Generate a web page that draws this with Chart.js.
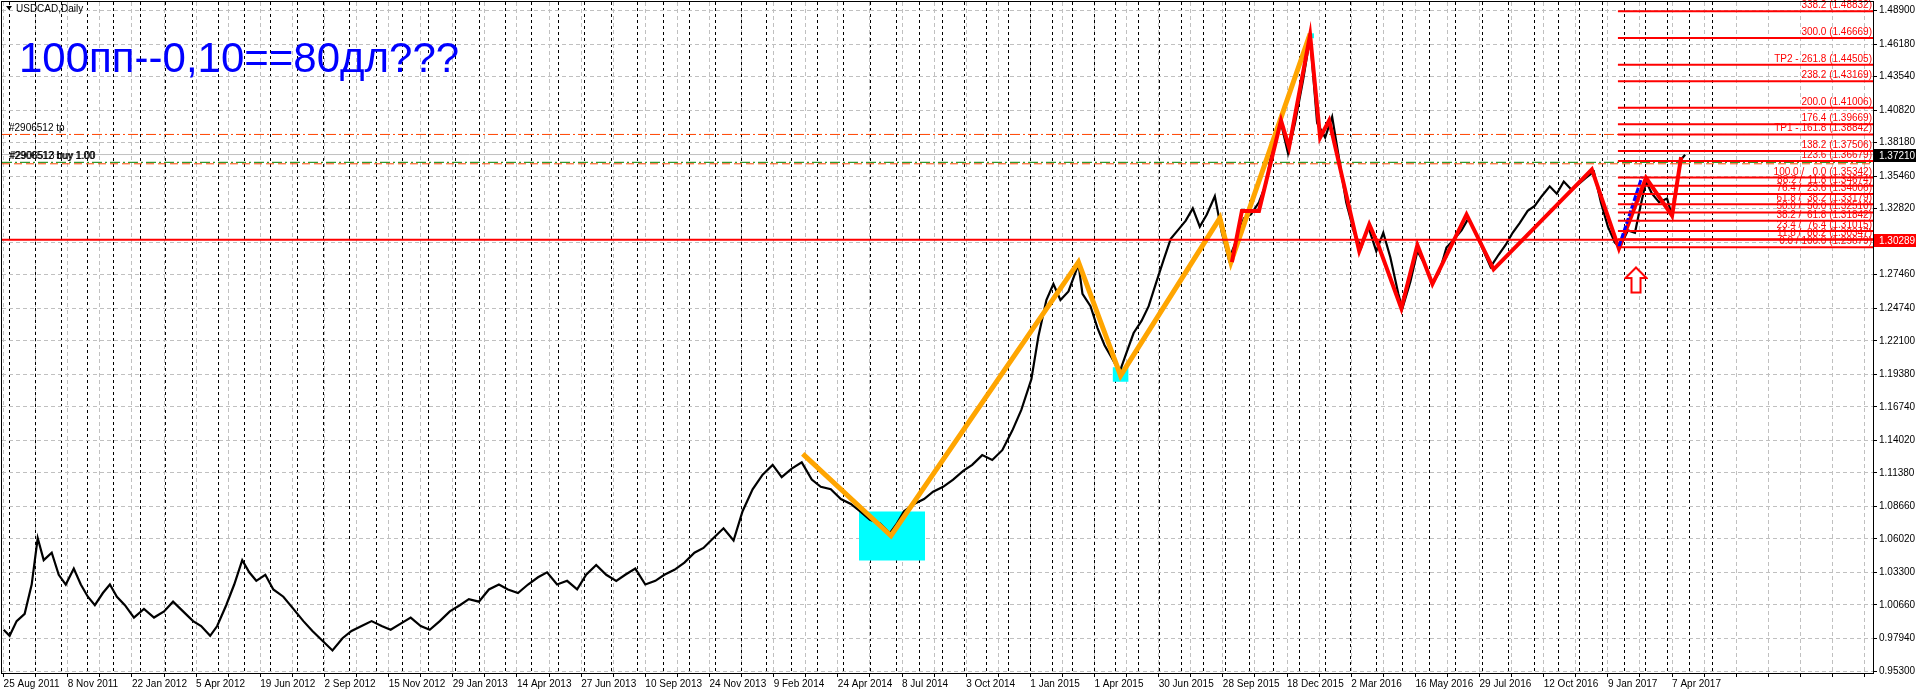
<!DOCTYPE html>
<html>

<head>
    <title>USDCAD,Daily</title>
    <meta charset="utf-8">
    <style>
        html,
        body {
            margin: 0;
            padding: 0;
            background: #ffffff;
        }
    </style>
</head>

<body>
    <canvas id="myChart" width="1916" height="694"></canvas>

    <script src="https://cdn.jsdelivr.net/npm/chart.js@4.4.1/dist/chart.umd.min.js"></script>

    <script>
        // ---- data ----
        const symbolTitle = 'USDCAD,Daily';
        const noteText = '100пп--0,10==80дл???';

        // one label every 64 bars
        const dateLabels = ['25 Aug 2011', '8 Nov 2011', '22 Jan 2012', '5 Apr 2012', '19 Jun 2012', '2 Sep 2012',
            '15 Nov 2012', '29 Jan 2013', '14 Apr 2013', '27 Jun 2013', '10 Sep 2013', '24 Nov 2013', '9 Feb 2014',
            '24 Apr 2014', '8 Jul 2014', '3 Oct 2014', '1 Jan 2015', '1 Apr 2015', '30 Jun 2015', '28 Sep 2015',
            '18 Dec 2015', '2 Mar 2016', '16 May 2016', '29 Jul 2016', '12 Oct 2016', '9 Jan 2017', '7 Apr 2017'];
        const barsPerLabel = 64;

        const priceTicks = [0.953, 0.9794, 1.0066, 1.033, 1.0602, 1.0866, 1.1138, 1.1402, 1.1674, 1.1938, 1.221,
            1.2474, 1.2746, 1.301, 1.3282, 1.3546, 1.3818, 1.4082, 1.4354, 1.4618, 1.489];

        // close line (bar index, price)
        const priceBars = [0, 6, 13, 21, 28, 34, 40, 48, 55, 62, 70, 77, 84, 91, 99, 106, 113, 121, 130, 140, 150, 160,
            169, 179, 189, 197, 206, 213, 222, 230, 238, 245, 252, 261, 269, 279, 289, 299, 308, 318, 328, 338, 347,
            357, 367, 377, 386, 396, 406, 416, 425, 435, 445, 455, 464, 474, 484, 494, 503, 513, 523, 533, 542, 552,
            562, 572, 581, 591, 601, 611, 620, 630, 640, 650, 659, 669, 679, 689, 698, 708, 718, 728, 737, 747, 757,
            767, 776, 786, 796, 806, 815, 825, 835, 845, 854, 864, 874, 884, 891, 898, 908, 918, 927, 937, 947, 957,
            966, 976, 986, 996, 1006, 1015, 1025, 1032, 1040, 1047, 1054, 1062, 1072, 1076, 1084, 1091, 1098, 1105,
            1113, 1120, 1127, 1135, 1142, 1149, 1157, 1164, 1171, 1179, 1186, 1193, 1200, 1208, 1215, 1222, 1230,
            1237, 1244, 1252, 1259, 1266, 1274, 1281, 1288, 1296, 1303, 1310, 1318, 1325, 1332, 1339, 1347, 1354,
            1361, 1369, 1376, 1383, 1391, 1395, 1403, 1410, 1417, 1425, 1432, 1439, 1447, 1454, 1461, 1469, 1476,
            1483, 1491, 1498, 1505, 1512, 1520, 1527, 1534, 1542, 1549, 1556, 1564, 1571, 1578, 1586, 1593, 1600,
            1607, 1612, 1620, 1627, 1632, 1638, 1644, 1651, 1659, 1664, 1669, 1673, 1677];
        const priceVals = [0.9865, 0.9816, 0.9935, 0.9994, 1.0232, 1.0609, 1.0430, 1.0490, 1.0311, 1.0232, 1.0361,
            1.0232, 1.0133, 1.0064, 1.0163, 1.0232, 1.0133, 1.0064, 0.9964, 1.0034, 0.9964, 1.0014, 1.0093, 1.0014,
            0.9935, 0.9895, 0.9816, 0.9895, 1.0064, 1.0232, 1.0430, 1.0331, 1.0262, 1.0311, 1.0192, 1.0133, 1.0034,
            0.9935, 0.9855, 0.9776, 0.9697, 0.9796, 0.9855, 0.9895, 0.9935, 0.9895, 0.9865, 0.9915, 0.9964, 0.9895,
            0.9865, 0.9935, 1.0014, 1.0064, 1.0113, 1.0093, 1.0192, 1.0232, 1.0192, 1.0163, 1.0232, 1.0291, 1.0331,
            1.0232, 1.0262, 1.0192, 1.0311, 1.0391, 1.0311, 1.0262, 1.0311, 1.0361, 1.0232, 1.0262, 1.0311, 1.0351,
            1.0410, 1.0490, 1.0529, 1.0609, 1.0688, 1.0589, 1.0827, 1.1005, 1.1124, 1.1203, 1.1104, 1.1173, 1.1223,
            1.1084, 1.1025, 1.1005, 1.0926, 1.0886, 1.0827, 1.0757, 1.0728, 1.0648, 1.0728, 1.0827, 1.0886, 1.0926,
            1.0985, 1.1025, 1.1084, 1.1154, 1.1203, 1.1282, 1.1243, 1.1322, 1.1481, 1.1649, 1.1897, 1.2244, 1.2541,
            1.2670, 1.2541, 1.2610, 1.2830, 1.2591, 1.2491, 1.2313, 1.2174, 1.2075, 1.1956, 1.2115, 1.2273, 1.2373,
            1.2491, 1.2670, 1.2868, 1.3037, 1.3106, 1.3185, 1.3284, 1.3136, 1.3235, 1.3383, 1.3086, 1.2868, 1.3037,
            1.3205, 1.3235, 1.3334, 1.3482, 1.3800, 1.3978, 1.3730, 1.3978, 1.4325, 1.4672, 1.3978, 1.3859, 1.4028,
            1.3681, 1.3334, 1.3086, 1.2967, 1.3136, 1.2937, 1.3086, 1.2888, 1.2591, 1.2472, 1.2690, 1.2937, 1.2838,
            1.2670, 1.2769, 1.2967, 1.3037, 1.3106, 1.3205, 1.3066, 1.2937, 1.2809, 1.2908, 1.2987, 1.3086, 1.3165,
            1.3264, 1.3304, 1.3383, 1.3463, 1.3403, 1.3502, 1.3433, 1.3482, 1.3532, 1.3582, 1.3334, 1.3136, 1.3007,
            1.2967, 1.3106, 1.3086, 1.3284, 1.3502, 1.3403, 1.3334, 1.3364, 1.3225, 1.3482, 1.3681, 1.3720];

        // zigzags
        const orangeBars = [797, 885, 1072, 1114, 1213, 1224, 1303];
        const orangeVals = [1.1292, 1.0628, 1.2848, 1.1927, 1.3205, 1.2848, 1.4701];
        const redBars = [1225, 1235, 1252, 1274, 1282, 1303, 1313, 1322, 1352, 1362, 1371, 1394, 1410, 1425, 1459,
            1486, 1584, 1611, 1638, 1664, 1673];
        const redVals = [1.2848, 1.3264, 1.3264, 1.3998, 1.3780, 1.4692, 1.3859, 1.3998, 1.2937, 1.3155, 1.2987,
            1.2472, 1.2987, 1.2670, 1.3235, 1.2789, 1.3601, 1.2957, 1.3532, 1.3225, 1.3700];
        const blueBars = [1611, 1634];
        const blueVals = [1.2974, 1.3542];

        // fibonacci expansion
        const fibStartBar = 1610;
        const fibLevels = [1.48832, 1.46669, 1.44505, 1.43169, 1.41006, 1.39669, 1.38842, 1.37506, 1.36679, 1.35342,
            1.34674, 1.34006, 1.33179, 1.32510, 1.31842, 1.31015, 1.30347, 1.29679];
        const fibNames = ['338.2', '300.0', 'TP2 - 261.8', '238.2', '200.0', '176.4', 'TP1 - 161.8', '138.2', '123.6',
            '100.0 /   0.0', '88.2 /  11.8', '76.4 /  23.6', '61.8 /  38.2', '50.0 /  50.0', '38.2 /  61.8',
            '23.4 /  76.4', '11.8 /  88.2', '0.0 / 100.0'];

        // horizontal lines
        const supportLevel = 1.30289;
        const tpLevel = 1.38842;
        const buyLevels = [1.3658, 1.3646];
        const bidLevel = 1.37210;

        // cyan boxes: [first bar, last bar, top, bottom]
        const cyanBoxes = [[853, 919, 1.0824, 1.0427], [1106, 1122, 1.1996, 1.1877], [1301, 1307, 1.4705, 1.4665]];

        const arrowBar = 1628;
        const arrowVal = 1.2703;

        const xMin = -1.6, xMax = 1864.4;
        const yMin = 0.9514, yMax = 1.4959;

        // ---- helpers ----
        const monthIdx = { Jan: 0, Feb: 1, Mar: 2, Apr: 3, May: 4, Jun: 5, Jul: 6, Aug: 7, Sep: 8, Oct: 9, Nov: 10, Dec: 11 };
        function toDay(s) {
            const p = s.split(' ');
            return Date.UTC(+p[2], monthIdx[p[1]], +p[0]) / 864e5;
        }
        const labelDays = dateLabels.map(toDay);
        function barOfDay(day) {
            let i = 0;
            while (i < labelDays.length - 2 && day > labelDays[i + 1]) i++;
            return barsPerLabel * (i + (day - labelDays[i]) / (labelDays[i + 1] - labelDays[i]));
        }
        // month separators, Sep 2011 .. Jun 2017
        const monthBars = [];
        for (let yr = 2011, m = 8; yr < 2017 || m <= 5;) {
            monthBars.push(barOfDay(Date.UTC(yr, m, 1) / 864e5));
            m++;
            if (m > 11) { m = 0; yr++; }
        }

        const pts = (xs, ys) => xs.map((x, i) => ({ x: x, y: ys[i] }));
        const hline = (x0, x1, v) => [{ x: x0, y: v }, { x: x1, y: v }];

        function arrowIcon() {
            const c = document.createElement('canvas');
            c.width = 24; c.height = 28;
            const g = c.getContext('2d');
            g.beginPath();
            g.moveTo(12, 1.5); g.lineTo(22.5, 12); g.lineTo(16.5, 12); g.lineTo(16.5, 26.5);
            g.lineTo(7.5, 26.5); g.lineTo(7.5, 12); g.lineTo(1.5, 12); g.closePath();
            g.fillStyle = '#ffffff'; g.fill();
            g.strokeStyle = '#ff0000'; g.lineWidth = 2; g.stroke();
            return c;
        }

        const flat = { pointRadius: 0, tension: 0, fill: false };
        const datasets = [];

        cyanBoxes.forEach(b => {
            datasets.push(Object.assign({}, flat, { data: hline(b[0], b[1], b[2]), borderWidth: 0, borderColor: '#00ffff', backgroundColor: '#00ffff', fill: '+1', order: 30 }));
            datasets.push(Object.assign({}, flat, { data: hline(b[0], b[1], b[3]), borderWidth: 0, borderColor: '#00ffff', order: 31 }));
        });

        datasets.push(Object.assign({}, flat, { data: pts(priceBars, priceVals), borderColor: '#000000', borderWidth: 2.2, order: 10 }));
        datasets.push(Object.assign({}, flat, { data: pts(orangeBars, orangeVals), borderColor: '#ffa500', borderWidth: 5, order: 9 }));
        datasets.push(Object.assign({}, flat, { data: pts(redBars, redVals), borderColor: '#ff0000', borderWidth: 4, order: 8 }));
        datasets.push(Object.assign({}, flat, { data: pts(blueBars, blueVals), borderColor: '#0000ff', borderWidth: 3, borderDash: [6, 2], order: 7 }));

        datasets.push(Object.assign({}, flat, { data: hline(xMin, xMax, bidLevel), borderColor: '#c0c0c0', borderWidth: 1, order: 12 }));
        datasets.push(Object.assign({}, flat, { data: hline(xMin, xMax, tpLevel), borderColor: '#ff4500', borderWidth: 1, borderDash: [10, 3, 2, 3], order: 12 }));
        datasets.push(Object.assign({}, flat, { data: hline(xMin, xMax, buyLevels[0]), borderColor: '#008000', borderWidth: 1, borderDash: [10, 3, 2, 3], order: 12 }));
        datasets.push(Object.assign({}, flat, { data: hline(xMin, xMax, buyLevels[1]), borderColor: '#ff4500', borderWidth: 1, borderDash: [8, 4], order: 12 }));
        datasets.push(Object.assign({}, flat, { data: hline(xMin, xMax, supportLevel), borderColor: '#ff0000', borderWidth: 2, order: 5 }));

        fibLevels.forEach(v => {
            datasets.push(Object.assign({}, flat, { data: hline(fibStartBar, xMax, v), borderColor: '#ff0000', borderWidth: 2, order: 4 }));
        });

        datasets.push({ data: [{ x: arrowBar, y: arrowVal }], showLine: false, pointStyle: arrowIcon(), pointRadius: 12, order: 1 });

        // ---- text, frame and axis price boxes ----
        const decorations = {
            id: 'decorations',
            afterDatasetsDraw(chart) {
                const { ctx, chartArea: a, scales: { y } } = chart;
                ctx.save();
                ctx.font = '10px "Liberation Sans"';
                ctx.textBaseline = 'alphabetic';
                ctx.fillStyle = '#ff0000';
                ctx.textAlign = 'right';
                fibLevels.forEach((v, i) => {
                    ctx.fillText(fibNames[i] + ' (' + v.toFixed(5) + ')', a.right - 1, Math.round(y.getPixelForValue(v)) - 3);
                });

                ctx.textAlign = 'left';
                ctx.fillStyle = '#000000';
                ctx.fillText('#2906512 tp', 9, Math.round(y.getPixelForValue(tpLevel)) - 3);
                ctx.fillText('#2906512 buy 1.00', 9, Math.round(y.getPixelForValue(buyLevels[0])) - 3);
                ctx.fillText('#2906513 buy 1.00', 10, Math.round(y.getPixelForValue(buyLevels[0])) - 3);

                ctx.fillText(symbolTitle, 16, 12);
                ctx.beginPath();
                ctx.moveTo(6, 6); ctx.lineTo(12, 6); ctx.lineTo(9, 10); ctx.closePath();
                ctx.fill();

                ctx.font = '42px "Liberation Sans"';
                ctx.fillStyle = '#0000ff';
                ctx.fillText(noteText, 19, 72);
                ctx.restore();
            },
            afterDraw(chart) {
                const { ctx, chartArea: a, scales: { y }, width } = chart;
                ctx.save();
                ctx.strokeStyle = '#000000';
                ctx.lineWidth = 1;
                ctx.strokeRect(a.left - 0.5, a.top - 0.5, a.right - a.left + 1, a.bottom - a.top + 1);

                ctx.font = '10px "Liberation Sans"';
                ctx.textAlign = 'left';
                ctx.textBaseline = 'middle';
                [[bidLevel, '#000000'], [supportLevel, '#ff0000']].forEach(b => {
                    const py = Math.round(y.getPixelForValue(b[0]));
                    ctx.fillStyle = b[1];
                    ctx.fillRect(a.right + 1, py - 6, width - a.right - 1, 13);
                    ctx.fillStyle = '#ffffff';
                    ctx.fillText(b[0].toFixed(5), a.right + 6, py + 1);
                });
                ctx.restore();
            }
        };

        const axisFont = { family: 'Liberation Sans', size: 10 };
        const noPad = s => { s.paddingTop = 0; s.paddingBottom = 0; s.paddingLeft = 0; s.paddingRight = 0; };

        new Chart(document.getElementById('myChart'), {
            type: 'line',
            data: { datasets: datasets },
            options: {
                responsive: false,
                animation: false,
                devicePixelRatio: 1,
                events: [],
                layout: { autoPadding: false, padding: { left: 2, top: 2, right: 0, bottom: 0 } },
                plugins: { legend: { display: false }, tooltip: { enabled: false } },
                scales: {
                    x: {
                        type: 'linear',
                        position: 'bottom',
                        min: xMin,
                        max: xMax,
                        afterBuildTicks: s => {
                            s.ticks = [];
                            for (let b = 0; b <= xMax; b += barsPerLabel / 2) s.ticks.push({ value: b });
                        },
                        afterFit: s => { s.height = 21; noPad(s); },
                        ticks: {
                            autoSkip: false,
                            maxRotation: 0,
                            align: 'start',
                            padding: 1,
                            color: '#000000',
                            font: axisFont,
                            callback: v => {
                                const i = v / barsPerLabel;
                                return Number.isInteger(i) && i < dateLabels.length ? dateLabels[i] : '';
                            }
                        },
                        grid: { color: '#c0c0c0', tickLength: 4, tickColor: '#000000' },
                        border: { display: true, color: '#000000', dash: [4, 3] }
                    },
                    xm: {
                        type: 'linear',
                        position: 'bottom',
                        min: xMin,
                        max: xMax,
                        afterBuildTicks: s => { s.ticks = monthBars.map(v => ({ value: v })); },
                        afterFit: s => { s.height = 0; noPad(s); },
                        ticks: { display: false },
                        grid: { color: '#000000', drawTicks: false },
                        border: { display: false, dash: [3, 3] }
                    },
                    y: {
                        position: 'right',
                        min: yMin,
                        max: yMax,
                        afterBuildTicks: s => { s.ticks = priceTicks.map(v => ({ value: v })); },
                        afterFit: s => { s.width = 43; noPad(s); },
                        ticks: { color: '#000000', font: axisFont, padding: 2, callback: v => v.toFixed(5) },
                        grid: { color: '#c0c0c0', tickLength: 4, tickColor: '#000000' },
                        border: { display: true, color: '#000000', dash: [4, 3] }
                    }
                }
            },
            plugins: [decorations]
        });
    </script>
</body>

</html>
